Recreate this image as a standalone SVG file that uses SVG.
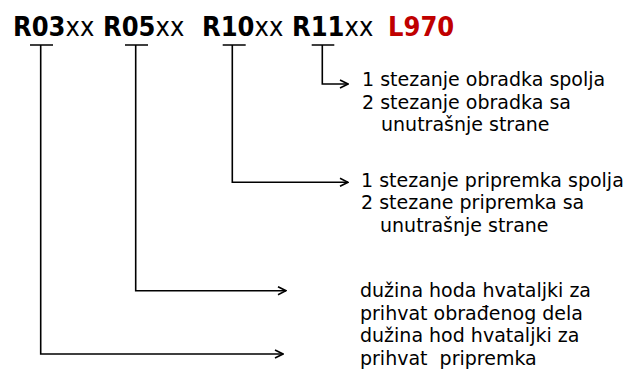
<svg xmlns="http://www.w3.org/2000/svg" width="634" height="370" viewBox="0 0 634 370">
<style>
.hd{font-family:"DejaVu Sans Condensed","DejaVu Sans",sans-serif;font-stretch:condensed;font-size:27px;fill:#000}
.b{font-weight:bold}
.r{fill:#C00000;font-weight:bold}
.t{font-family:"DejaVu Sans","Verdana",sans-serif;font-size:19px;fill:#000;white-space:pre}
.ln{fill:none;stroke:#000;stroke-width:1.6}
</style>
<defs>
<marker id="ah" viewBox="0 0 10 10" refX="9" refY="5" markerWidth="10" markerHeight="10" markerUnits="userSpaceOnUse" orient="auto">
<path d="M1,1 L9,5 L1,9" fill="none" stroke="#000" stroke-width="1.6"/>
</marker>
</defs>
<rect width="634" height="370" fill="#fff"/>
<g id="code-R03"><text class="hd" x="13" y="36"><tspan class="b">R03</tspan>xx</text></g>
<g id="code-R05"><text class="hd" x="103" y="36"><tspan class="b">R05</tspan>xx</text></g>
<g id="code-R10"><text class="hd" x="202" y="36"><tspan class="b">R10</tspan>xx</text></g>
<g id="code-R11"><text class="hd" x="292" y="36"><tspan class="b">R11</tspan>xx</text></g>
<g id="code-L970"><text class="hd r" x="388" y="36">L970</text></g>
<g id="connectors">
<path class="ln" d="M30,45 H53 M40.7,45 V354 H283" marker-end="url(#ah)"/>
<path class="ln" d="M125,45 H148 M135.7,45 V290.7 H286" marker-end="url(#ah)"/>
<path class="ln" d="M222.7,45 H245.7 M232.3,45 V182.3 H348" marker-end="url(#ah)"/>
<path class="ln" d="M311.7,45 H334.3 M322.3,45 V84 H348" marker-end="url(#ah)"/>
</g>
<g id="label-R11">
<text class="t" x="362" y="86">1 stezanje obradka spolja</text>
<text class="t" x="362" y="108.5">2 stezanje obradka sa</text>
<text class="t" x="381" y="131">unutrašnje strane</text>
</g>
<g id="label-R10">
<text class="t" x="361" y="186.5">1 stezanje pripremka spolja</text>
<text class="t" x="361" y="209">2 stezane pripremka sa</text>
<text class="t" x="380" y="231.5">unutrašnje strane</text>
</g>
<g id="label-R05">
<text class="t" x="360" y="297">dužina hoda hvataljki za</text>
<text class="t" x="360" y="319.5">prihvat obrađenog dela</text>
</g>
<g id="label-R03">
<text class="t" x="360" y="342">dužina hod hvataljki za</text>
<text class="t" x="360" y="364.5">prihvat  pripremka</text>
</g>
</svg>
